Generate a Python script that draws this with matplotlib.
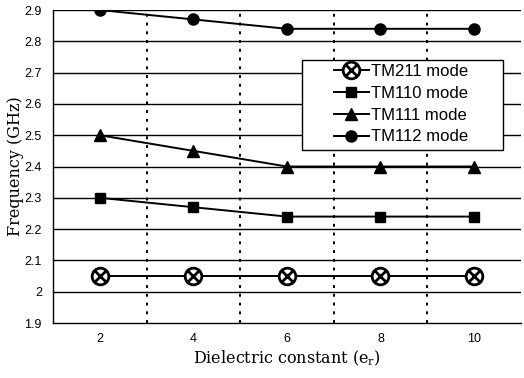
import matplotlib
matplotlib.use("Agg")
import matplotlib.pyplot as plt
from matplotlib.path import Path
from matplotlib.patches import Rectangle

categories = ["2", "4", "6", "8", "10"]
tm211 = [2.05, 2.05, 2.05, 2.05, 2.05]
tm110 = [2.30, 2.27, 2.24, 2.24, 2.24]
tm111 = [2.50, 2.45, 2.40, 2.40, 2.40]
tm112 = [2.90, 2.87, 2.84, 2.84, 2.84]
y_ticks = [1.9, 2.0, 2.1, 2.2, 2.3, 2.4, 2.5, 2.6, 2.7, 2.8, 2.9]
y_tick_labels = ["1.9", "2", "2.1", "2.2", "2.3", "2.4", "2.5", "2.6", "2.7", "2.8", "2.9"]

sans = "Liberation Sans"
serif = "DejaVu Serif"

fig = plt.figure(figsize=(5.24, 3.78), dpi=100)
ax = fig.add_axes([0.101, 0.1455, 0.893, 0.828])

x = list(range(len(categories)))

circ = Path.unit_circle()
d = 0.62
cross = Path.make_compound_path(
    circ,
    Path([(-d, -d), (d, d)], [Path.MOVETO, Path.LINETO]),
    Path([(-d, d), (d, -d)], [Path.MOVETO, Path.LINETO]),
)

ax.plot(x, tm211, color="black", lw=1.4, marker=cross, ms=12, mfc="white",
        mec="black", mew=2.0, label="TM211 mode", zorder=5)
ax.plot(x, tm110, color="black", lw=1.4, marker="s", ms=7, label="TM110 mode", zorder=5)
ax.plot(x, tm111, color="black", lw=1.4, marker="^", ms=8, label="TM111 mode", zorder=5)
ax.plot(x, tm112, color="black", lw=1.4, marker="o", ms=8, label="TM112 mode", zorder=5)

ax.set_xlim(-0.5, len(categories) - 0.5)
ax.set_ylim(1.9, 2.9)
ax.set_xticks(x)
ax.set_xticklabels(categories, fontfamily=sans, fontsize=9)
ax.set_yticks(y_ticks)
ax.set_yticklabels(y_tick_labels, fontfamily=sans, fontsize=9)
ax.tick_params(axis="x", length=0, pad=7)
ax.tick_params(axis="y", length=0, pad=8)

for yv in y_ticks[1:]:
    ax.axhline(yv, color="black", lw=1.0, zorder=1)
for xv in [0.5, 1.5, 2.5, 3.5]:
    ax.axvline(xv, color="black", lw=1.4, ls=(0, (1.5, 3)), zorder=1)

for s in ["top", "right"]:
    ax.spines[s].set_visible(False)
for s in ["left", "bottom"]:
    ax.spines[s].set_linewidth(1.0)

ax.set_ylabel("Frequency (GHz)", fontfamily=serif, fontsize=11.5, labelpad=0.5)
ax.set_xlabel(r"Dielectric constant (e$_\mathregular{r}$)", fontfamily=serif, fontsize=11.5, labelpad=3)

# legend frame
frame = Rectangle((0.532, 0.553), 0.430, 0.287, transform=ax.transAxes,
                  facecolor="white", edgecolor="black", lw=1.0, zorder=8)
ax.add_patch(frame)

leg = ax.legend(loc="upper left", bbox_to_anchor=(0.600, 0.828), frameon=False,
                prop={"family": sans, "size": 12}, borderpad=0, borderaxespad=0,
                handlelength=2.1, labelspacing=0.41, handletextpad=0.15)
leg.set_zorder(10)

fig.savefig("out.png", dpi=100)
